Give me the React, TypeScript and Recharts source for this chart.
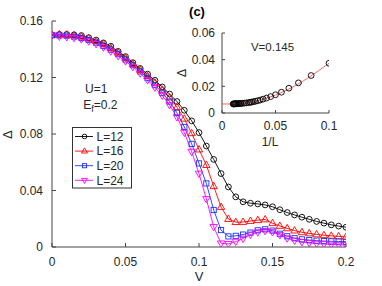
import React from 'react';
import { LineChart, Line, XAxis, YAxis, Legend } from 'recharts';

const F = '"Liberation Sans", Arial, Helvetica, sans-serif';

const V = [0, 0.005, 0.01, 0.015, 0.02, 0.025, 0.03, 0.035, 0.04, 0.045, 0.05, 0.055, 0.06, 0.065, 0.07, 0.075, 0.08, 0.085, 0.09, 0.095, 0.1, 0.105, 0.11, 0.115, 0.12, 0.125, 0.13, 0.135, 0.14, 0.145, 0.15, 0.155, 0.16, 0.165, 0.17, 0.175, 0.18, 0.185, 0.19, 0.195, 0.2];

const L12 = [0.1500, 0.1505, 0.1505, 0.1502, 0.1497, 0.1482, 0.1465, 0.1445, 0.1421, 0.1385, 0.1348, 0.1305, 0.1264, 0.1224, 0.1180, 0.1133, 0.1083, 0.1030, 0.0968, 0.0893, 0.0810, 0.0715, 0.0620, 0.0520, 0.0425, 0.0355, 0.0320, 0.0310, 0.0305, 0.0298, 0.0285, 0.0264, 0.0244, 0.0227, 0.0211, 0.0196, 0.0181, 0.0169, 0.0157, 0.0148, 0.0140];
const L16 = [0.1500, 0.1505, 0.1503, 0.1498, 0.1490, 0.1475, 0.1457, 0.1435, 0.1408, 0.1375, 0.1337, 0.1295, 0.1253, 0.1210, 0.1163, 0.1113, 0.1058, 0.0990, 0.0908, 0.0805, 0.0690, 0.0580, 0.0430, 0.0283, 0.0198, 0.0176, 0.0177, 0.0184, 0.0190, 0.0195, 0.0168, 0.0149, 0.0132, 0.0116, 0.0104, 0.0096, 0.0089, 0.0083, 0.0079, 0.0075, 0.0071];
const L20 = [0.1500, 0.1498, 0.1496, 0.1490, 0.1480, 0.1465, 0.1447, 0.1424, 0.1397, 0.1365, 0.1328, 0.1287, 0.1243, 0.1196, 0.1146, 0.1092, 0.1030, 0.0950, 0.0850, 0.0730, 0.0592, 0.0450, 0.0262, 0.0120, 0.0075, 0.0079, 0.0088, 0.0102, 0.0118, 0.0125, 0.0116, 0.0094, 0.0076, 0.0062, 0.0054, 0.0049, 0.0045, 0.0042, 0.0040, 0.0039, 0.0038];
const L24 = [0.1500, 0.1490, 0.1487, 0.1481, 0.1471, 0.1457, 0.1438, 0.1414, 0.1386, 0.1353, 0.1316, 0.1275, 0.1230, 0.1182, 0.1130, 0.1072, 0.1005, 0.0920, 0.0810, 0.0675, 0.0520, 0.0340, 0.0142, 0.0026, 0.0022, 0.0038, 0.0060, 0.0088, 0.0105, 0.0114, 0.0106, 0.0085, 0.0062, 0.0046, 0.0036, 0.0029, 0.0024, 0.0021, 0.0018, 0.0016, 0.0015];

const xTicks = [0, 0.05, 0.1, 0.15, 0.2];
const yTicks = [0, 0.04, 0.08, 0.12, 0.16];

// inset: V = 0.145, Delta vs 1/L
const insetL = [10, 12, 14, 16, 18, 20, 22, 24, 26, 28, 30, 32, 34, 36, 38, 40, 44, 48, 52, 56, 60, 64, 68, 72, 76, 80, 84, 88, 92, 96];
const insetDelta = [0.0373, 0.0281, 0.0226, 0.0186, 0.0156, 0.0137, 0.0123, 0.0112, 0.0104, 0.0097, 0.0092, 0.0088, 0.0085, 0.0082, 0.0080, 0.0078, 0.0076, 0.0074, 0.0073, 0.0072, 0.0071, 0.0071, 0.0070, 0.0070, 0.0069, 0.0069, 0.0069, 0.0068, 0.0068, 0.0068];
const fitX = [0, 0.01, 0.02, 0.03, 0.04, 0.05, 0.06, 0.07, 0.08, 0.09, 0.1];
const fitY = [0.0068, 0.0067, 0.0072, 0.0086, 0.0107, 0.0135, 0.0170, 0.0212, 0.0261, 0.0316, 0.0373];
const insetXTicks = [0, 0.05, 0.1];
const insetYTicks = [0, 0.02, 0.04, 0.06];

const series = [
  { key: 'L12', name: 'L=12', color: '#000000', shape: 'circle' },
  { key: 'L16', name: 'L=16', color: '#ff0000', shape: 'up' },
  { key: 'L20', name: 'L=20', color: '#1a33ff', shape: 'square' },
  { key: 'L24', name: 'L=24', color: '#ff00ff', shape: 'down' },
];
const seriesData: Record<string, number[]> = { L12, L16, L20, L24 };

const rows = V.map((v, i) => ({ V: v, L12: L12[i], L16: L16[i], L20: L20[i], L24: L24[i] }));
const insetRows = insetL.map((l, i) => ({ x: 1 / l, y: insetDelta[i] }));
const fitRows = fitX.map((x, i) => ({ x, y: fitY[i] }));

function marker(shape: string, color: string, cx: number, cy: number, s: number, key?: any) {
  const sw = 0.9;
  if (shape === 'circle') return <circle key={key} cx={cx} cy={cy} r={2.9 * s} fill="none" stroke={color} strokeWidth={sw} />;
  if (shape === 'square') return <rect key={key} x={cx - 2.6 * s} y={cy - 2.6 * s} width={5.2 * s} height={5.2 * s} fill="none" stroke={color} strokeWidth={sw} />;
  if (shape === 'up') {
    const p = `${cx},${cy - 4 * s} ${cx - 3.7 * s},${cy + 2.4 * s} ${cx + 3.7 * s},${cy + 2.4 * s}`;
    return <polygon key={key} points={p} fill="none" stroke={color} strokeWidth={sw} />;
  }
  const p = `${cx},${cy + 4 * s} ${cx - 3.7 * s},${cy - 2.4 * s} ${cx + 3.7 * s},${cy - 2.4 * s}`;
  return <polygon key={key} points={p} fill="none" stroke={color} strokeWidth={sw} />;
}

const makeDot = (shape: string, color: string) => (props: any) => {
  const { cx, cy, index } = props;
  if (cx == null || cy == null) return <g key={`e${index}`} />;
  return marker(shape, color, cx, cy, 1, `d${index}`);
};

const LegendBox = () => (
  <svg width={61} height={62} style={{ display: 'block' }}>
    <rect x={0.5} y={0.5} width={59} height={60.5} fill="#fff" stroke="#333" strokeWidth={1} />
    {series.map((s, i) => {
      const y = 9.5 + i * 14.6;
      return (
        <g key={s.key}>
          <line x1={3} x2={21} y1={y} y2={y} stroke={s.color} strokeWidth={0.9} />
          {marker(s.shape, s.color, 12.5, y, 0.8)}
          <text x={24.5} y={y + 4.3} fontSize={12} fontFamily={F} fill="#262626">{s.name}</text>
        </g>
      );
    })}
  </svg>
);

const axisStroke = '#444';
const tickStyle = { fill: '#262626', fontSize: 12, fontFamily: F };

export default function App() {
  return (
    <div style={{ position: 'fixed', left: 0, top: 0, width: 382, height: 286, background: '#fff' }}>
      <LineChart width={382} height={286} data={rows} margin={{ top: 21, right: 36, bottom: 0, left: 0 }}>
        <XAxis xAxisId="b" dataKey="V" type="number" domain={[0, 0.2]} ticks={xTicks} interval={0}
          tickSize={-4} tickMargin={14} height={39} stroke={axisStroke} tick={tickStyle} allowDataOverflow
          label={{ value: 'V', position: 'insideBottom', offset: 5, fill: '#262626', fontSize: 13, fontFamily: F }} />
        <XAxis xAxisId="t" orientation="top" dataKey="V" type="number" domain={[0, 0.2]} ticks={xTicks} interval={0}
          tickSize={-4} height={0} stroke={axisStroke} tick={false} allowDataOverflow />
        <YAxis yAxisId="l" type="number" domain={[0, 0.16]} ticks={yTicks} interval={0}
          tickSize={-4} tickMargin={13} width={52} stroke={axisStroke} tick={tickStyle} allowDataOverflow />
        <YAxis yAxisId="r" orientation="right" type="number" domain={[0, 0.16]} ticks={yTicks} interval={0}
          tickSize={-4} width={0} stroke={axisStroke} tick={false} allowDataOverflow />
        {series.map((s) => (
          <Line key={s.key} xAxisId="b" yAxisId="l" dataKey={s.key} name={s.name} stroke={s.color} strokeWidth={0.9}
            type="linear" isAnimationActive={false} dot={makeDot(s.shape, s.color)} activeDot={false} />
        ))}
        <Legend layout="vertical" align="center" verticalAlign="middle"
          wrapperStyle={{ left: 72, top: 126.5, width: 61, height: 62 }} content={() => <LegendBox />} />
      </LineChart>

      <div style={{ position: 'absolute', left: 182, top: 25 }}>
        <LineChart width={155} height={124} margin={{ top: 8, right: 8, bottom: 0, left: 0 }}>
          <XAxis xAxisId="b" dataKey="x" type="number" domain={[0, 0.1]} ticks={insetXTicks} interval={0}
            tickSize={-3} tickMargin={11.5} height={36} stroke={axisStroke} tick={tickStyle} allowDataOverflow />
          <XAxis xAxisId="t" orientation="top" dataKey="x" type="number" domain={[0, 0.1]} ticks={insetXTicks} interval={0}
            tickSize={-3} height={0} stroke={axisStroke} tick={false} allowDataOverflow />
          <YAxis yAxisId="l" type="number" domain={[0, 0.06]} ticks={insetYTicks} interval={0}
            tickSize={-3} tickMargin={10} width={40} stroke={axisStroke} tick={tickStyle} allowDataOverflow />
          <YAxis yAxisId="r" orientation="right" type="number" domain={[0, 0.06]} ticks={insetYTicks} interval={0}
            tickSize={-3} width={0} stroke={axisStroke} tick={false} allowDataOverflow />
          <Line xAxisId="b" yAxisId="l" data={fitRows} dataKey="y" stroke="#ff4040" strokeWidth={0.8}
            type="monotone" dot={false} activeDot={false} isAnimationActive={false} />
          <Line xAxisId="b" yAxisId="l" data={insetRows} dataKey="y" stroke="none"
            type="linear" dot={makeDot('circle', '#000')} activeDot={false} isAnimationActive={false} />
        </LineChart>
      </div>

      <svg width={382} height={286} style={{ position: 'absolute', left: 0, top: 0, pointerEvents: 'none' }}>
        <text x={197} y={15.5} textAnchor="middle" fontSize={13} fontWeight="bold" fontFamily={F} fill="#000">(c)</text>
        <text x={85} y={93.3} fontSize={12} fontFamily={F} fill="#262626">U=1</text>
        <text x={83.3} y={109} fontSize={12} fontFamily={F} fill="#262626">E<tspan fontSize={9} dy={3}>f</tspan><tspan dy={-3}>=0.2</tspan></text>
        <text x={7.5} y={134.7} dy="0.36em" textAnchor="middle" transform="rotate(-90 7.5 134.7)" fontSize={13} fontFamily={F} fill="#262626">Δ</text>
        <text x={272.5} y={50.7} textAnchor="middle" fontSize={11.5} fontFamily={F} fill="#262626">V=0.145</text>
        <text x={270} y={146} textAnchor="middle" fontSize={12} fontFamily={F} fill="#262626">1/L</text>
        <text x={182} y={73} dy="0.36em" textAnchor="middle" transform="rotate(-90 182 73)" fontSize={12} fontFamily={F} fill="#262626">Δ</text>
      </svg>
    </div>
  );
}
